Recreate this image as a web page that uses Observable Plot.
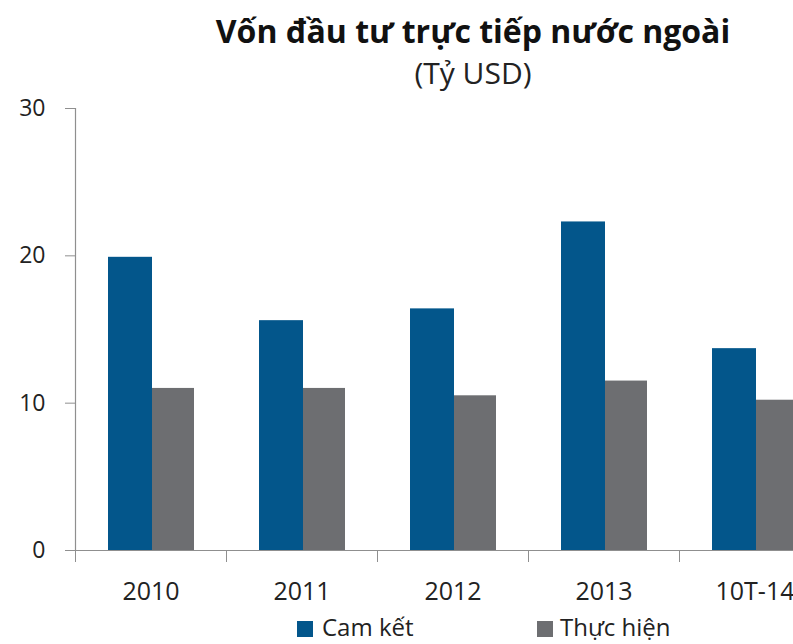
<!DOCTYPE html>
<html><head><meta charset="utf-8">
<script src="https://cdn.jsdelivr.net/npm/d3@7"></script>
<script src="https://cdn.jsdelivr.net/npm/@observablehq/plot@0.6"></script>
<style>
body{margin:0;overflow:hidden;background:#fff;font-family:"Open Sans",sans-serif;}
#wrap{position:relative;width:793px;height:644px;overflow:hidden;}
#head{position:relative;height:85px;}
.t{position:absolute;left:0;width:946px;text-align:center;white-space:nowrap;color:#111;}
#title{top:13px;font-size:32px;font-weight:700;line-height:36px;}
#sub{top:58px;font-size:30px;font-weight:400;line-height:30px;color:#222;}
#legend{position:relative;height:34px;font-size:24px;color:#222;}
.sq{position:absolute;top:11px;width:16px;height:16px;}
.lt{position:absolute;top:4px;line-height:26px;white-space:nowrap;}
</style></head>
<body>
<div id="wrap">
  <div id="head">
    <div class="t" id="title"></div>
    <div class="t" id="sub"></div>
  </div>
  <div id="chart"></div>
  <div id="legend"></div>
</div>
<script>
const titleText = "Vốn đầu tư trực tiếp nước ngoài";
const subtitleText = "(Tỷ USD)";
const categories = ["2010", "2011", "2012", "2013", "10T-14"];
const camKet = [19.9, 15.6, 16.4, 22.3, 13.7];
const thucHien = [11.0, 11.0, 10.5, 11.5, 10.2];
const yTicks = [0, 10, 20, 30];
const seriesNames = ["Cam kết", "Thực hiện"];
const colors = ["#03568b", "#6d6e71"];

document.getElementById("title").textContent = titleText;
document.getElementById("sub").textContent = subtitleText;

const data = categories.map((c, i) => ({year: c, cam: camKet[i], th: thucHien[i]}));
const axisColor = "#8f8f8f";
const xRange = [75, 830];
const step = (xRange[1] - xRange[0]) / categories.length;

const chart = Plot.plot({
  width: 793, height: 525,
  marginTop: 23, marginBottom: 60, marginLeft: 75, marginRight: 0,
  style: {fontFamily: "'Open Sans', sans-serif", background: "white", color: "#222"},
  x: {domain: categories, range: xRange, padding: 0, label: null},
  y: {domain: [0, 30], label: null},
  marks: [
    Plot.barY(data, {x: "year", y: "cam", fill: colors[0], insetLeft: 33, insetRight: 74}),
    Plot.barY(data, {x: "year", y: "th", fill: colors[1], insetLeft: 77, insetRight: 32}),
    Plot.ruleY([0], {stroke: axisColor, strokeWidth: 1.2}),
    Plot.frame({anchor: "left", stroke: axisColor, strokeWidth: 1.2}),
    Plot.axisY({ticks: yTicks, tickSize: 10, tickPadding: 20, fontSize: 23, stroke: axisColor, fill: "#222", label: null}),
    Plot.axisX({tickSize: 12, tickFormat: () => "", dx: -step / 2, stroke: axisColor, label: null}),
    Plot.axisX({tickSize: 0, tickPadding: 32, fontSize: 25, fill: "#222", label: null})
  ]
});
document.getElementById("chart").appendChild(chart);

const legend = document.getElementById("legend");
const sqX = [297, 537], txX = [322, 560];
seriesNames.forEach((s, i) => {
  const sq = document.createElement("div");
  sq.className = "sq"; sq.style.left = sqX[i] + "px"; sq.style.background = colors[i];
  const t = document.createElement("div");
  t.className = "lt"; t.style.left = txX[i] + "px"; t.textContent = s;
  legend.appendChild(sq); legend.appendChild(t);
});
</script>
</body></html>
